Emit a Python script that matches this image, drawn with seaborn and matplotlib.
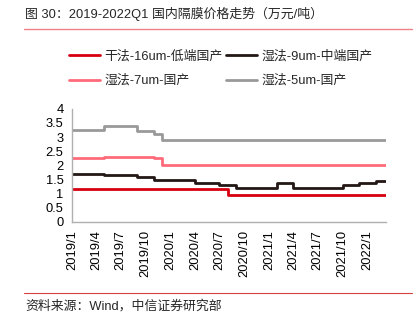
import numpy as np
import pandas as pd
import matplotlib
matplotlib.use("Agg")
import matplotlib.pyplot as plt
import matplotlib.dates as mdates
from matplotlib.ticker import FuncFormatter, MultipleLocator
from matplotlib.lines import Line2D
import seaborn as sns

# ---------------- data ----------------
dates = list(pd.date_range("2019-01-01", "2022-03-01", freq="MS")) + [pd.Timestamp("2022-03-11")]

dry_16um = [1.15] * 19 + [0.95] * 21
wet_9um = ([1.7] * 4 + [1.65] * 4 + [1.6] * 2 + [1.5] * 5 + [1.37] * 3 + [1.32] * 2
           + [1.2] * 5 + [1.36] * 2 + [1.2] * 6 + [1.3] * 2 + [1.36] * 2 + [1.43] * 3)
wet_7um = [2.25] * 4 + [2.3] * 6 + [2.25] * 1 + [2.0] * 29
wet_5um = [3.25] * 4 + [3.4] * 4 + [3.2] * 2 + [3.1] * 1 + [2.9] * 29

series_names = ["干法-16um-低端国产", "湿法-9um-中端国产", "湿法-7um-国产", "湿法-5um-国产"]
series_values = [dry_16um, wet_9um, wet_7um, wet_5um]
colors = ["#d7000f", "#231815", "#ff6b7a", "#999999"]

title = "图 30：2019-2022Q1 国内隔膜价格走势（万元/吨）"
source = "资料来源：Wind，中信证券研究部"

# ---------------- build frame ----------------
frames = []
for name, vals in zip(series_names, series_values):
    frames.append(pd.DataFrame({"date": dates, "value": vals, "series": name}))
df = pd.concat(frames, ignore_index=True)

sns.set_theme(style="white")
plt.rcParams["font.family"] = ["Liberation Sans", "Noto Sans CJK SC", "DejaVu Sans"]
plt.rcParams["axes.unicode_minus"] = False

FS = 9.3

fig = plt.figure(figsize=(4.17, 3.22), dpi=100)
ax = fig.add_axes([72 / 417, 1 - 222 / 322, (386 - 72) / 417, (222 - 108.7) / 322])

sns.lineplot(data=df, x="date", y="value", hue="series", hue_order=series_names,
             palette=dict(zip(series_names, colors)), drawstyle="steps-post",
             linewidth=2, ax=ax, legend=False)

ax.set_xlim(pd.Timestamp("2019-01-01"), pd.Timestamp("2022-03-11"))
ax.set_ylim(0, 4)
ax.yaxis.set_major_locator(MultipleLocator(0.5))
ax.yaxis.set_major_formatter(FuncFormatter(lambda v, p: f"{v:g}"))
ax.xaxis.set_major_locator(mdates.MonthLocator(bymonth=[1, 4, 7, 10]))
ax.xaxis.set_major_formatter(FuncFormatter(lambda v, p: f"{mdates.num2date(v).year}/{mdates.num2date(v).month}"))
ax.set_xlabel("")
ax.set_ylabel("")

for s in ["top", "right"]:
    ax.spines[s].set_visible(False)
for s in ["left", "bottom"]:
    ax.spines[s].set_color("#b0b0b0")
    ax.spines[s].set_linewidth(1)
ax.tick_params(axis="both", which="major", direction="out", length=4, width=1,
               color="#b0b0b0", labelsize=FS, pad=2, labelcolor="#000000")
ax.tick_params(axis="x", labelrotation=90)
ax.grid(False)

# legend
handles = [Line2D([], [], color=c, lw=2) for c in colors]
order = [0, 2, 1, 3]
fig.legend([handles[i] for i in order], [series_names[i] for i in order],
           ncol=2, loc="center left", bbox_to_anchor=(63 / 417, 1 - 68.5 / 322),
           frameon=False, fontsize=FS, handlelength=2.4, handletextpad=0.3,
           columnspacing=0.3, labelspacing=0.95, borderpad=0)

# title, rules, source
fig.text(25 / 417, 1 - 14 / 322, title, fontsize=FS, va="center", ha="left")
fig.add_artist(Line2D([24 / 417, 412 / 417], [1 - 29 / 322] * 2, color="#f08088", lw=1,
                      transform=fig.transFigure))
fig.add_artist(Line2D([24 / 417, 412 / 417], [1 - 293 / 322] * 2, color="#d84040", lw=0.8,
                      transform=fig.transFigure))
fig.text(25 / 417, 1 - 306 / 322, source, fontsize=FS, va="center", ha="left")

fig.savefig("out.png", dpi=100)
